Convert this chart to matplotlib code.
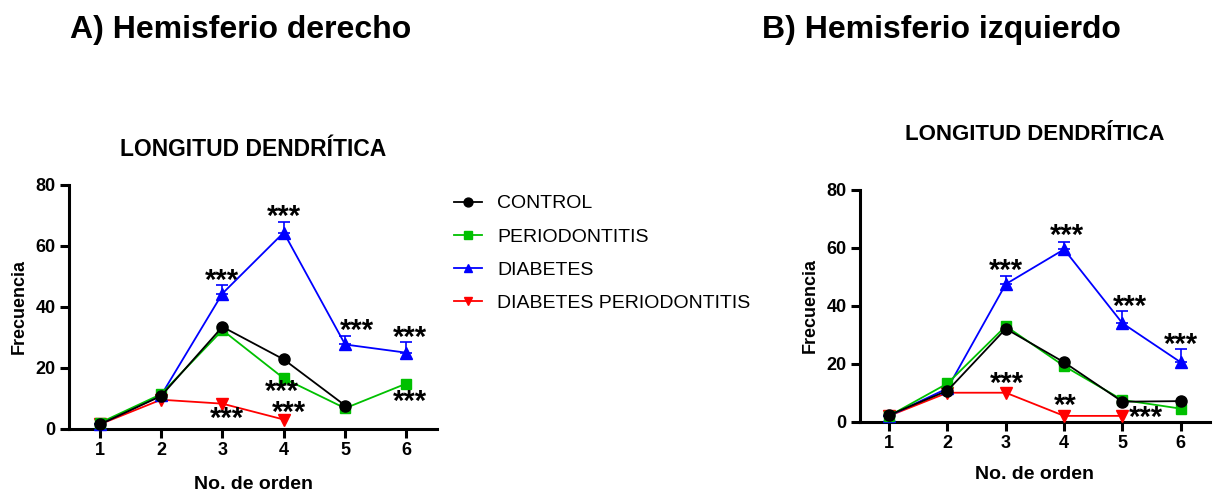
import numpy as np
import matplotlib
matplotlib.use('Agg')
import matplotlib.pyplot as plt

plt.rcParams['font.family'] = ['Liberation Sans', 'DejaVu Sans']

# Data
orden = [1, 2, 3, 4, 5, 6]
series = ['CONTROL', 'PERIODONTITIS', 'DIABETES', 'DIABETES PERIODONTITIS']

# A) Hemisferio derecho
der_control = [1.5, 10.8, 33.5, 22.8, 7.7, np.nan]
der_perio = [2.0, 11.4, 32.4, 16.6, 6.8, 14.9]
der_diabetes = [1.5, 11.0, 44.4, 64.4, 27.7, 25.0]
der_diabetes_err = [0, 0, 2.8, 3.6, 2.8, 3.4]
der_diab_perio = [1.5, 9.6, 8.3, 3.1, np.nan, np.nan]

# B) Hemisferio izquierdo
izq_control = [2.3, 10.7, 32.1, 20.5, 6.9, 7.1]
izq_perio = [2.0, 13.2, 33.0, 19.2, 7.5, 4.5]
izq_diabetes = [2.0, 11.5, 47.5, 59.5, 34.0, 20.5]
izq_diabetes_err = [0, 0, 2.8, 2.6, 4.1, 4.7]
izq_diab_perio = [2.0, 10.0, 10.0, 2.0, 2.0, np.nan]

# significance marks (x, y, text)
der_marks = [(3.0, 48.5, '***'), (4.0, 69.5, '***'), (5.2, 32.0, '***'), (6.05, 30.0, '***'),
             (3.97, 12.3, '***'), (6.05, 8.8, '***'), (4.09, 5.2, '***'), (3.07, 3.2, '***')]
izq_marks = [(3.0, 52.0, '***'), (4.04, 64.0, '***'), (5.13, 39.5, '***'), (6.0, 26.5, '***'),
             (3.02, 13.0, '***'), (4.02, 5.3, '**'), (5.4, 1.3, '***')]

styles = {
    'CONTROL': dict(color='black', marker='o', ms=8),
    'PERIODONTITIS': dict(color='#00c000', marker='s', ms=7.5),
    'DIABETES': dict(color='#0000ff', marker='^', ms=8),
    'DIABETES PERIODONTITIS': dict(color='#ff0000', marker='v', ms=8),
}

fig = plt.figure(figsize=(12.15, 4.94), dpi=100)


def draw_panel(ax, control, perio, diab, diab_err, dperio, marks):
    vals = {'CONTROL': control, 'PERIODONTITIS': perio,
            'DIABETES': diab, 'DIABETES PERIODONTITIS': dperio}
    order = ['DIABETES PERIODONTITIS', 'DIABETES', 'PERIODONTITIS', 'CONTROL']
    for name in order:
        st = styles[name]
        if name == 'DIABETES':
            ax.errorbar(orden, diab, yerr=[np.zeros(6), diab_err], fmt='none',
                        ecolor=st['color'], elinewidth=1.2, capsize=4, capthick=1.2, zorder=2)
        ax.plot(orden, vals[name], color=st['color'], marker=st['marker'], ms=st['ms'],
                lw=1.3, label=name, zorder=3)
    for x, y, t in marks:
        ax.text(x, y, t, ha='center', va='center', fontsize=21, fontweight='bold')
    ax.set_xlim(0.5, 6.5)
    ax.set_ylim(0, 80)
    ax.set_xticks(orden)
    ax.set_yticks([0, 20, 40, 60, 80])
    for s in ['top', 'right']:
        ax.spines[s].set_visible(False)
    for s in ['left', 'bottom']:
        ax.spines[s].set_linewidth(2.2)
    ax.tick_params(width=2.2, length=6.5, labelsize=13, pad=3)
    for lab in ax.get_xticklabels() + ax.get_yticklabels():
        lab.set_fontweight('bold')
    ax.set_ylabel('Frecuencia', fontsize=13, fontweight='bold', labelpad=6)
    for line in ax.lines:
        line.set_clip_on(False)


ax1 = fig.add_axes([0.0568, 0.1316, 0.303, 0.494])
draw_panel(ax1, der_control, der_perio, der_diabetes, der_diabetes_err, der_diab_perio, der_marks)
ax1.set_xlabel('No. de orden', fontsize=14, fontweight='bold', labelpad=12)
ax1.set_title('LONGITUD DENDRÍTICA', fontsize=16.5, fontweight='bold', pad=21)

ax2 = fig.add_axes([0.7078, 0.1464, 0.288, 0.469])
draw_panel(ax2, izq_control, izq_perio, izq_diabetes, izq_diabetes_err, izq_diab_perio, izq_marks)
ax2.set_xlabel('No. de orden', fontsize=14, fontweight='bold', labelpad=10)
ax2.set_title('LONGITUD DENDRÍTICA', fontsize=16, fontweight='bold', pad=36)

handles, labels = ax1.get_legend_handles_labels()
idx = [labels.index(s) for s in series]
fig.legend([handles[i] for i in idx], [labels[i] for i in idx],
           loc='upper left', bbox_to_anchor=(0.3595, 0.641), frameon=False,
           fontsize=14, handlelength=1.4, handletextpad=0.8, labelspacing=0.8, markerscale=0.8)

fig.text(0.0576, 0.94, 'A) Hemisferio derecho', fontsize=23, fontweight='bold', va='center')
fig.text(0.627, 0.94, 'B) Hemisferio izquierdo', fontsize=23, fontweight='bold', va='center')

fig.savefig('out.png', dpi=100)
